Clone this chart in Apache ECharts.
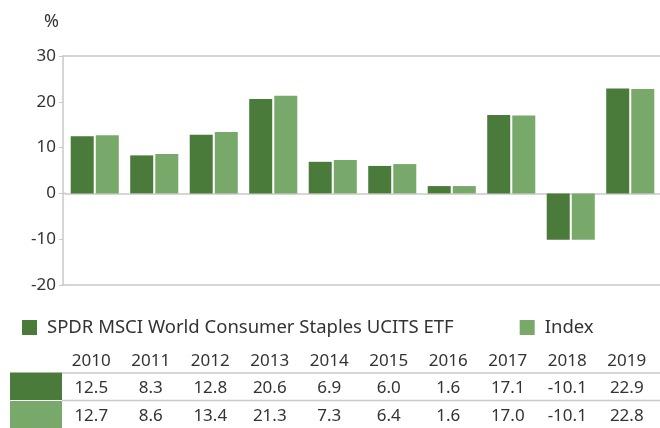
<!DOCTYPE html>
<html><head><meta charset="utf-8">
<script src="https://cdn.jsdelivr.net/npm/echarts@6/dist/echarts.min.js"></script>
<style>html,body{margin:0;padding:0;background:#fff}#c{width:660px;height:428px}</style>
</head><body><div id="c"></div>
<script>
const years = ['2010','2011','2012','2013','2014','2015','2016','2017','2018','2019'];
const fundName = 'SPDR MSCI World Consumer Staples UCITS ETF';
const indexName = 'Index';
const fundValues = [12.5, 8.3, 12.8, 20.6, 6.9, 6.0, 1.6, 17.1, -10.1, 22.9];
const indexValues = [12.7, 8.6, 13.4, 21.3, 7.3, 6.4, 1.6, 17.0, -10.1, 22.8];
const yTicks = [-20, -10, 0, 10, 20, 30];

const DARK = '#4a7b3a', LIGHT = '#78a86a', AX = '#c8c8c8', TXT = '#333333';
const FONT = 'Noto Sans';
const chart = echarts.init(document.getElementById('c'));
chart.setOption({
  animation: false,
  textStyle: {fontFamily: FONT},
  title: {text: '%', left: 39, top: 8, textStyle: {fontFamily: FONT, fontSize: 18, fontWeight: 'normal', color: TXT}},
  legend: {
    left: 17, top: 313, itemWidth: 15, itemHeight: 15, itemGap: 66,
    icon: 'rect',
    textStyle: {fontFamily: FONT, fontSize: 18.5, lineHeight: 18, color: TXT, padding: [0,0,0,5]},
    data: [fundName, indexName]
  },
  grid: {left: 65, width: 601, top: 56, height: 229, containLabel: false},
  xAxis: {
    type: 'category', data: years,
    axisLine: {onZero: false, show: false},
    axisTick: {show: false},
    axisLabel: {
      margin: 62, interval: 0, padding: [0, 7, 0, 0],
      formatter: (v, i) => '{y|' + v + '}\n{a|' + fundValues[i].toFixed(1) + '}\n{b|' + indexValues[i].toFixed(1) + '}',
      rich: {
        y: {fontFamily: FONT, fontSize: 17, color: TXT, lineHeight: 27.5},
        a: {fontFamily: FONT, fontSize: 17, color: TXT, lineHeight: 27.5},
        b: {fontFamily: FONT, fontSize: 17, color: TXT, lineHeight: 27.5}
      }
    }
  },
  yAxis: {
    type: 'value', min: yTicks[0], max: yTicks[yTicks.length-1], interval: 10, offset: 2,
    axisLine: {show: true, lineStyle: {color: AX, width: 1.5}},
    axisTick: {show: true, length: 4, lineStyle: {color: AX}},
    axisLabel: {fontFamily: FONT, fontSize: 17, color: TXT, margin: 7},
    splitLine: {show: true, lineStyle: {color: [AX, 'rgba(0,0,0,0)', AX, 'rgba(0,0,0,0)', 'rgba(0,0,0,0)', AX], width: 1.5}}
  },
  series: [
    {name: fundName, type: 'bar', data: fundValues, barWidth: 23, barGap: '9%', itemStyle: {color: DARK}},
    {name: indexName, type: 'bar', data: indexValues, barWidth: 23, itemStyle: {color: LIGHT}}
  ],
  graphic: [
    {type: 'line', shape: {x1: 62.5, y1: 56, x2: 66, y2: 56}, style: {stroke: AX, lineWidth: 1.5}},
    {type: 'line', shape: {x1: 62.5, y1: 193.4, x2: 66, y2: 193.4}, style: {stroke: AX, lineWidth: 1.5}},
    {type: 'line', shape: {x1: 62.5, y1: 285, x2: 66, y2: 285}, style: {stroke: AX, lineWidth: 1.5}},
    {type: 'rect', shape: {x: 10, y: 372.5, width: 52, height: 27.5}, style: {fill: DARK}},
    {type: 'rect', shape: {x: 10, y: 401, width: 52, height: 27}, style: {fill: LIGHT}},
    {type: 'line', shape: {x1: 62, y1: 373, x2: 660, y2: 373}, style: {stroke: AX, lineWidth: 1.5}},
    {type: 'line', shape: {x1: 62, y1: 400.5, x2: 660, y2: 400.5}, style: {stroke: AX, lineWidth: 1.5}}
  ]
});
</script></body></html>
